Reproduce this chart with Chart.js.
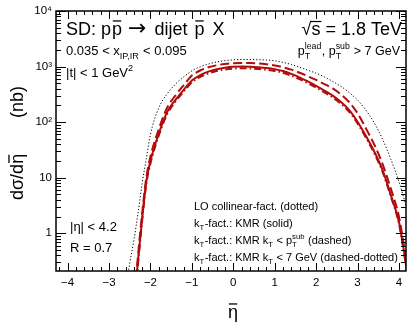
<!DOCTYPE html>
<html>
<head>
<meta charset="utf-8">
<script src="https://cdn.jsdelivr.net/npm/chart.js@4/dist/chart.umd.min.js"></script>
<style>
html,body{margin:0;padding:0;background:#fff;}
canvas{display:block;}
</style>
</head>
<body>
<canvas id="c" width="409" height="322"></canvas>
<script>
// ---------------- data ----------------
const etaValues = [-2.6,-2.5,-2.4,-2.3,-2.2,-2.1,-2.0,-1.8,-1.6,-1.4,-1.2,-1.0,-0.8,-0.6,-0.4,-0.2,0,0.2,0.4,0.6,0.8,1.0,1.2,1.4,1.6,1.8,2.0,2.2,2.4,2.6,2.8,3.0,3.2,3.4,3.6,3.8,4.0,4.1,4.2];
const loCollinear = [0.1,0.29,0.75,2.3,7.9,22,60,180,320,480,650,840,990,1110,1210,1280,1320,1340,1340,1330,1310,1270,1190,1090,970,860,760,650,540,440,340,250,165,98,50,22,8.5,4.8,2.6];
const kmrSolid = [0.005,0.012,0.05,0.32,1.85,8.5,20,62,150,250,380,560,700,810,895,955,990,1000,995,975,945,900,830,740,640,540,450,370,300,230,165,102,57,30,14,5,1.6,0.6,0.2];
const kmrKtPtSub = [0.006,0.015,0.06,0.4,2.3,10,24,74,180,300,460,690,850,970,1055,1115,1150,1165,1160,1140,1100,1045,970,880,775,670,575,485,405,315,228,145,78,40,18,6.5,2.0,0.75,0.24];
const kmrKt7 = [0.004,0.01,0.045,0.28,1.7,7.8,18,57,138,232,352,520,650,752,832,888,920,930,925,905,878,836,772,688,595,502,418,344,279,214,153,95,53,28,13,4.7,1.5,0.56,0.19];

const xTickValues = [-4,-3,-2,-1,0,1,2,3,4];
const xTickLabels = ['\u22124','\u22123','\u22122','\u22121','0','1','2','3','4'];
const yTickValues = [1,10,100,1000,10000];
const yTickLabels = ['1','10','10\u00B2','10\u00B3','10\u2074'];

const legendLines = [
  [{t:'LO collinear-fact. (dotted)'}],
  [{t:'k'},{sub:'T'},{t:'-fact.: KMR (solid)'}],
  [{t:'k'},{sub:'T'},{t:'-fact.: KMR k'},{sub:'T'},{t:' < p'},{sub:'T',sup:'sub'},{t:' (dashed)'}],
  [{t:'k'},{sub:'T'},{t:'-fact.: KMR k'},{sub:'T'},{t:' < 7 GeV (dashed-dotted)'}]
];

// ---------------- helpers ----------------
const FONT = '"Liberation Sans", Arial, Helvetica, sans-serif';
function f(size, fam){ return size + 'px ' + (fam || FONT); }

function partWidth(ctx, p, size){
  if (p.gap) return p.gap;
  if (p.t !== undefined){ ctx.font = f(p.size || size, p.fam); return ctx.measureText(p.t).width; }
  ctx.font = f(size*0.7);
  const a = p.sub ? ctx.measureText(p.sub).width : 0;
  const b = p.sup ? ctx.measureText(p.sup).width : 0;
  return Math.max(a,b) + 0.5;
}
function richWidth(ctx, parts, size){
  return parts.reduce((w,p) => w + partWidth(ctx, p, size), 0);
}
function drawRich(ctx, x, y, parts, size, align){
  ctx.save();
  ctx.textBaseline = 'alphabetic';
  ctx.textAlign = 'left';
  ctx.fillStyle = '#000';
  if (align === 'right') x -= richWidth(ctx, parts, size);
  for (const p of parts){
    if (p.gap){ x += p.gap; continue; }
    if (p.t !== undefined){
      ctx.font = f(p.size || size, p.fam);
      const w = ctx.measureText(p.t).width;
      ctx.fillText(p.t, x, y + (p.dy || 0));
      if (p.bar){
        ctx.strokeStyle = '#000'; ctx.lineWidth = Math.max(1, size/14);
        ctx.beginPath();
        ctx.moveTo(x + w*0.08, y - size*0.78);
        ctx.lineTo(x + w*0.92, y - size*0.78);
        ctx.stroke();
      }
      x += w;
    } else {
      ctx.font = f(size*0.7);
      let a = 0, b = 0;
      if (p.sub){ ctx.fillText(p.sub, x, y + size*0.3); a = ctx.measureText(p.sub).width; }
      if (p.sup){ ctx.fillText(p.sup, x, y - size*0.45); b = ctx.measureText(p.sup).width; }
      x += Math.max(a,b) + 0.5;
    }
  }
  ctx.restore();
}

// ---------------- plugins ----------------
const frameTicks = {
  id: 'frameTicks',
  afterDatasetsDraw(chart){
    const {ctx, chartArea: a, scales: {x, y}} = chart;
    ctx.save();
    ctx.strokeStyle = '#000';
    ctx.lineWidth = 1;
    ctx.beginPath();
    for (let i = -22; i <= 22; i++){
      const v = i/5;
      if (v < x.min || v > x.max) continue;
      const px = Math.round(x.getPixelForValue(v)) + 0.5;
      const len = (i % 5 === 0) ? 8 : 4;
      ctx.moveTo(px, a.bottom); ctx.lineTo(px, a.bottom - len);
      ctx.moveTo(px, a.top); ctx.lineTo(px, a.top + len);
    }
    for (let e = -1; e <= 4; e++){
      for (let m = 1; m <= 9; m++){
        const v = m * Math.pow(10, e);
        if (v < y.min || v > y.max*1.0001) continue;
        const py = Math.round(y.getPixelForValue(v)) + 0.5;
        const len = (m === 1) ? 10 : 5;
        ctx.moveTo(a.left, py); ctx.lineTo(a.left + len, py);
        ctx.moveTo(a.right, py); ctx.lineTo(a.right - len, py);
      }
    }
    ctx.stroke();
    ctx.lineWidth = 1.5;
    ctx.strokeRect(a.left, a.top, a.right - a.left, a.bottom - a.top);
    ctx.restore();
  }
};

const annotations = {
  id: 'annotations',
  afterDraw(chart){
    const ctx = chart.ctx;
    // title
    drawRich(ctx, 66, 35, [{t:'SD: p'},{gap:1},{t:'p',bar:true},{gap:6},
      {t:'\u2192', fam:'"DejaVu Sans", sans-serif', size:22, dy:0},{gap:3},{t:' dijet '},{gap:2},{t:'p',bar:true},{gap:3},{t:' X'}], 18);
    // sqrt(s)
    ctx.save();
    ctx.font = f(18);
    const rest = ' = 1.8 TeV';
    const wRest = ctx.measureText(rest).width;
    const wS = ctx.measureText('s').width;
    const wRoot = ctx.measureText('\u221A').width;
    const xEnd = 402;
    const xS = xEnd - wRest - wS;
    ctx.fillStyle = '#000';
    ctx.fillText(rest, xEnd - wRest, 35);
    ctx.fillText('s', xS, 35);
    ctx.fillText('\u221A', xS - wRoot, 35);
    ctx.strokeStyle = '#000'; ctx.lineWidth = 1.2;
    ctx.beginPath(); ctx.moveTo(xS - 1, 21.5); ctx.lineTo(xS + wS + 1, 21.5); ctx.stroke();
    ctx.restore();

    drawRich(ctx, 66, 55, [{t:'0.035 < x'},{sub:'IP,IR'},{t:' < 0.095'}], 13);
    drawRich(ctx, 66, 77, [{t:'|t| < 1 GeV'},{sup:'2'}], 13);
    drawRich(ctx, 400, 55, [{t:'p'},{sub:'T',sup:'lead'},{t:', p'},{sub:'T',sup:'sub'},{t:' > 7 GeV'}], 12.5, 'right');

    drawRich(ctx, 70, 231, [{t:'|\u03B7| < 4.2'}], 13);
    drawRich(ctx, 70, 252, [{t:'R = 0.7'}], 13);

    const ly = [210, 227, 244, 261];
    legendLines.forEach((ln, i) => drawRich(ctx, 194, ly[i], ln, 11));

    // x-axis title
    drawRich(ctx, 228, 318, [{t:'\u03B7', bar:true}], 18);

    // y-axis title (rotated)
    ctx.save();
    ctx.translate(23, 200);
    ctx.rotate(-Math.PI/2);
    drawRich(ctx, 0, 0, [{t:'d\u03C3/d'},{t:'\u03B7',bar:true}], 18);
    drawRich(ctx, 82, 0, [{t:'(nb)'}], 18);
    ctx.restore();
  }
};

// ---------------- chart ----------------
const RED = '#b10c0c';
function pts(arr){ return etaValues.map((e,i) => ({x:e, y:arr[i]})); }

new Chart(document.getElementById('c'), {
  type: 'line',
  data: {
    datasets: [
      {label:'LO collinear-fact.', data: pts(loCollinear), borderColor:'#000', borderWidth:1, borderDash:[1.2,2]},
      {label:'KMR', data: pts(kmrSolid), borderColor:RED, borderWidth:2},
      {label:'KMR kT < pT sub', data: pts(kmrKtPtSub), borderColor:RED, borderWidth:2, borderDash:[9,4]},
      {label:'KMR kT < 7 GeV', data: pts(kmrKt7), borderColor:RED, borderWidth:2, borderDash:[7,3,1.5,3]}
    ]
  },
  options: {
    responsive: false,
    devicePixelRatio: 1,
    animation: false,
    parsing: false,
    elements: { point: { radius: 0 }, line: { cubicInterpolationMode: 'monotone', fill: false } },
    layout: { padding: { top: 11, right: 3, left: 0, bottom: 0 } },
    plugins: { legend: { display: false }, tooltip: { enabled: false } },
    scales: {
      x: {
        type: 'linear', min: -4.28, max: 4.17,
        grid: { display: false, drawTicks: false }, border: { display: false },
        afterBuildTicks: s => { s.ticks = xTickValues.map(v => ({value: v})); },
        afterFit: s => { s.height = 51; },
        ticks: { autoSkip: false, maxRotation: 0, padding: 5, color: '#000', font: { size: 11.5, family: FONT },
          callback: (v) => { const i = xTickValues.indexOf(v); return i >= 0 ? xTickLabels[i] : ''; } }
      },
      y: {
        type: 'logarithmic', min: 0.21, max: 10000,
        grid: { display: false, drawTicks: false }, border: { display: false },
        afterBuildTicks: s => { s.ticks = yTickValues.map(v => ({value: v})); },
        afterFit: s => { s.width = 56; },
        ticks: { autoSkip: false, padding: 4, color: '#000', font: { size: 11.5, family: FONT },
          callback: (v) => { const i = yTickValues.indexOf(v); return i >= 0 ? yTickLabels[i] : ''; } }
      }
    }
  },
  plugins: [frameTicks, annotations]
});
</script>
</body>
</html>
